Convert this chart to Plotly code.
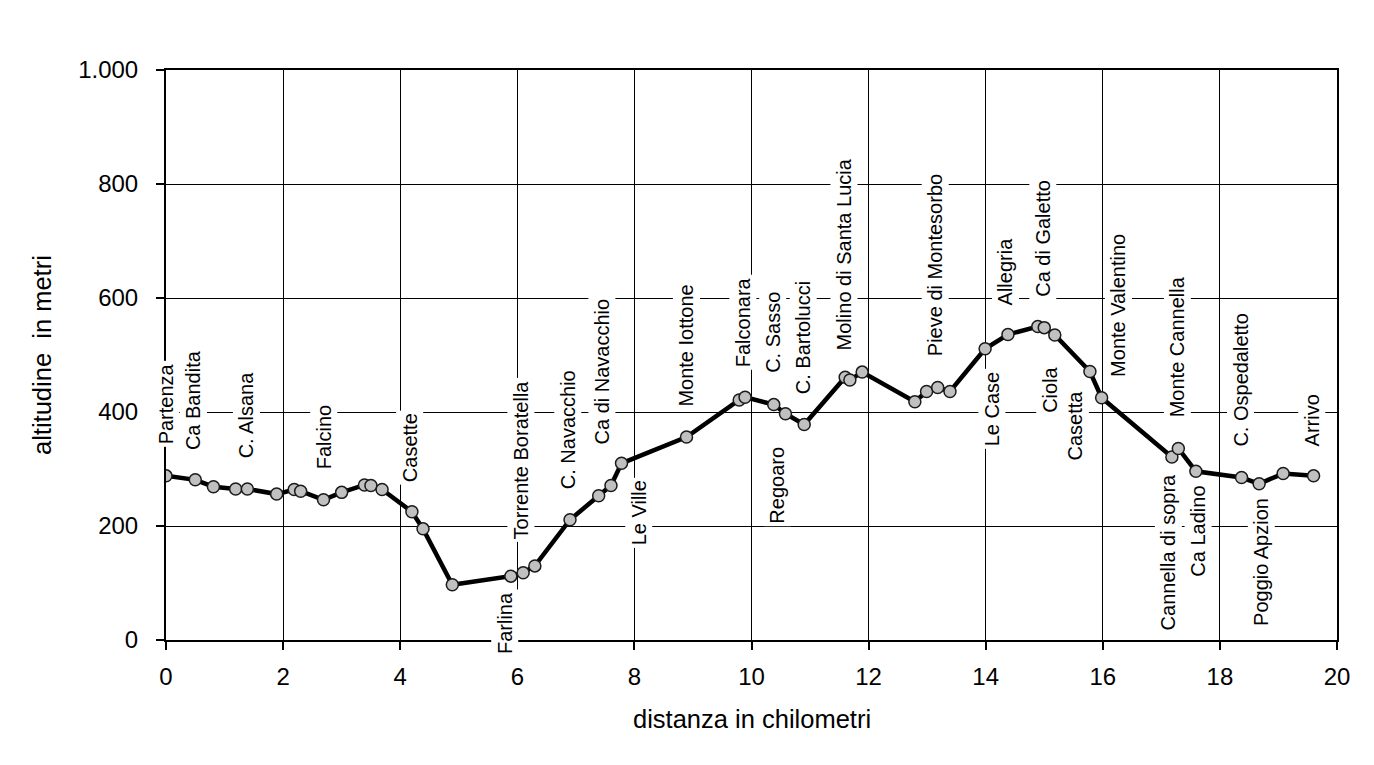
import plotly.graph_objects as go

# ---- data ----
km = [0.0, 0.5, 0.81, 1.19, 1.39, 1.89, 2.19, 2.30, 2.69, 3.0,
      3.39, 3.50, 3.69, 4.20, 4.39, 4.89, 5.89, 6.10, 6.30, 6.90,
      7.39, 7.60, 7.78, 8.89, 9.79, 9.89, 10.38, 10.58, 10.90, 11.60,
      11.68, 11.89, 12.79, 12.99, 13.18, 13.39, 13.99, 14.38, 14.89, 15.00,
      15.18, 15.78, 15.98, 17.18, 17.29, 17.59, 18.37, 18.67, 19.08, 19.60]
alt = [288, 281, 269, 265, 265, 256, 264, 261, 246, 259,
       272, 271, 264, 225, 195, 97, 112, 118, 130, 211,
       253, 271, 310, 356, 421, 426, 413, 397, 378, 461,
       456, 470, 418, 436, 443, 436, 511, 536, 550, 548,
       535, 471, 425, 321, 336, 296, 285, 274, 292, 288]

place_names = ["Partenza", "Ca Bandita", "C. Alsana", "Falcino", "Casette",
               "Farlina", "Torrente Boratella", "C. Navacchio", "Ca di Navacchio",
               "Le Ville", "Monte Iottone", "Falconara", "C. Sasso", "Regoaro",
               "C. Bartolucci", "Molino di Santa Lucia", "Pieve di Montesorbo",
               "Le Case", "Allegria", "Ca di Galetto", "Ciola", "Casetta",
               "Monte Valentino", "Cannella di sopra", "Monte Cannella",
               "Ca Ladino", "C. Ospedaletto", "Poggio Apzion", "Arrivo"]
place_point = [0, 1, 4, 8, 13, 16, 17, 19, 20, 22, 23, 25, 26, 27, 28, 29, 34,
               36, 37, 38, 40, 41, 42, 43, 44, 45, 46, 47, 49]

x_ticks = [0, 2, 4, 6, 8, 10, 12, 14, 16, 18, 20]
y_ticks = [0, 200, 400, 600, 800, 1000]

# ---- label placement (pixels): side, horizontal shift, gap from point ----
label_side = ["up", "up", "up", "up", "up", "down", "up", "up", "up", "down",
              "up", "up", "up", "down", "up", "up", "up", "down", "up", "up",
              "down", "down", "up", "down", "up", "down", "up", "down", "up"]
label_dx = [0, -2, -1, 0, -2, -6, -2, -2, 3, 17, 0, -2, -1, -8, -1, -1, -2,
            7, -2, 5, -5, -15, 17, -4, -1, 2, -1, 2, -2]
label_gap = [31, 30, 31, 30, 30, 16, 33, 30, 51, 17, 30, 30, 32, 33, 30, 27, 31,
             23, 29, 30, 32, 19, 21, 16, 31, 14, 31, 14, 29]

FONT = "Liberation Sans, Arial, sans-serif"
PAD = 2

fig = go.Figure()
fig.add_trace(go.Scatter(
    x=km, y=alt, mode="lines+markers",
    line=dict(color="black", width=4.5),
    marker=dict(size=12, color="#c0c0c0", line=dict(color="#1a1a1a", width=1.5)),
    hoverinfo="x+y", showlegend=False,
))

annotations = []
for name, idx, side, dx, gap in zip(place_names, place_point, label_side, label_dx, label_gap):
    up = side == "up"
    annotations.append(dict(
        x=km[idx], y=alt[idx], xref="x", yref="y",
        text=name, textangle=-90, showarrow=False,
        xanchor="center", yanchor="bottom" if up else "top",
        xshift=dx, yshift=(gap - PAD - 1) if up else -(gap - PAD - 1),
        bgcolor="white", borderpad=PAD,
        font=dict(family=FONT, size=20, color="black"),
    ))

annotations.append(dict(
    x=0.5, y=0, xref="paper", yref="paper", text="distanza in chilometri",
    showarrow=False, xanchor="center", yanchor="middle", yshift=-79,
    font=dict(family=FONT, size=25.5, color="black"),
))
annotations.append(dict(
    x=0, y=0.5, xref="paper", yref="paper", text="altitudine\u00a0 in metri",
    showarrow=False, xanchor="center", yanchor="middle", xshift=-124,
    textangle=-90, font=dict(family=FONT, size=25.5, color="black"),
))

fig.update_layout(
    width=1366, height=757,
    margin=dict(l=158, r=37, t=62, b=125),
    paper_bgcolor="white", plot_bgcolor="white",
    separators=",.",
    font=dict(family=FONT, size=24, color="black"),
    annotations=annotations,
)
fig.update_xaxes(
    range=[0, 20], tickvals=x_ticks, showgrid=True, gridcolor="black", gridwidth=1,
    zeroline=False, showline=True, linecolor="black", linewidth=2, mirror=True,
    ticks="outside", ticklen=8, tickwidth=1.5, tickcolor="black",
    ticklabelstandoff=6, tickfont=dict(family=FONT, size=24, color="black"),
)
fig.update_yaxes(
    range=[0, 1000], tickvals=y_ticks, tickformat=",d", showgrid=True,
    gridcolor="black", gridwidth=1, zeroline=False, showline=True,
    linecolor="black", linewidth=2, mirror=True,
    ticks="outside", ticklen=8, tickwidth=1.5, tickcolor="black",
    ticklabelstandoff=13, tickfont=dict(family=FONT, size=24, color="black"),
)

fig.write_html("out.html")
